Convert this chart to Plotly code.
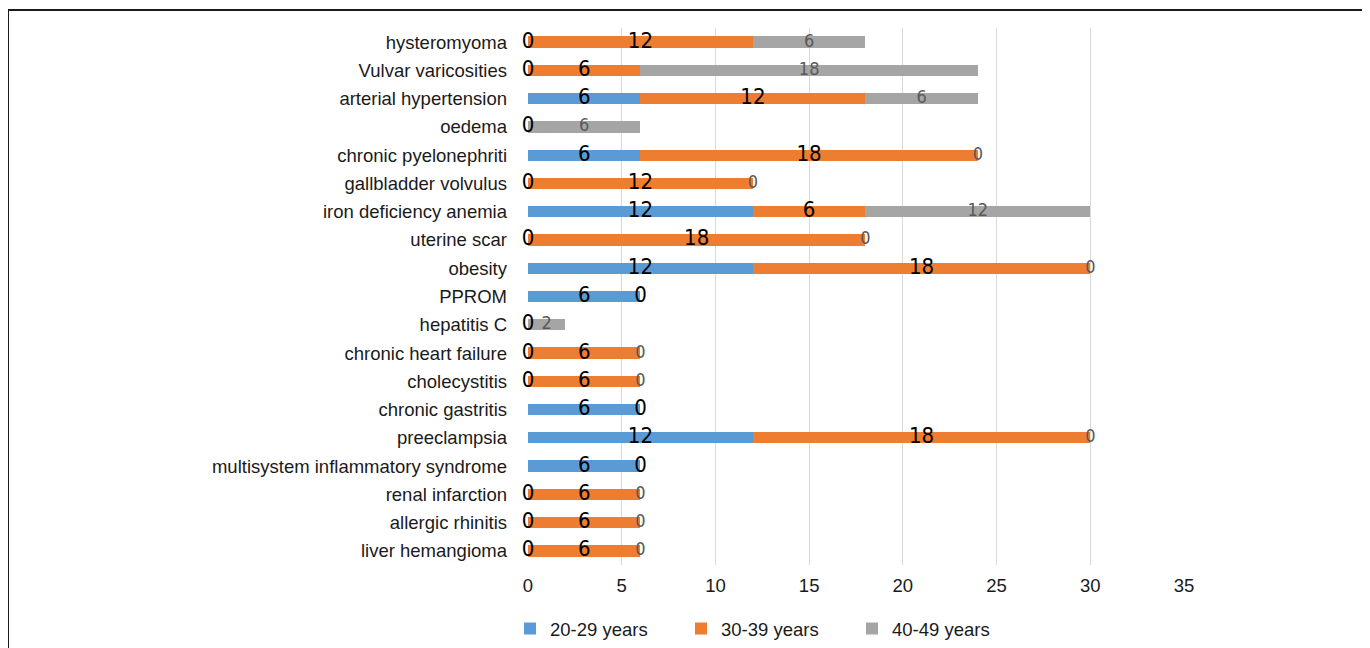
import plotly.graph_objects as go

categories = [
    "hysteromyoma", "Vulvar varicosities", "arterial hypertension", "oedema",
    "chronic pyelonephriti", "gallbladder volvulus", "iron deficiency anemia",
    "uterine scar", "obesity", "PPROM", "hepatitis C", "chronic heart failure",
    "cholecystitis", "chronic gastritis", "preeclampsia",
    "multisystem inflammatory syndrome", "renal infarction", "allergic rhinitis",
    "liver hemangioma",
]
age_20_29 = [0, 0, 6, 0, 6, 0, 12, 0, 12, 6, 0, 0, 0, 6, 12, 6, 0, 0, 0]
age_30_39 = [12, 6, 12, None, 18, 12, 6, 18, 18, 0, None, 6, 6, 0, 18, 0, 6, 6, 6]
age_40_49 = [6, 18, 6, 6, 0, 0, 12, 0, 0, None, 2, 0, 0, None, 0, None, 0, 0, 0]

series_names = ["20-29 years", "30-39 years", "40-49 years"]
colors = ["#5B9BD5", "#ED7D31", "#A5A5A5"]
label_colors = ["#000000", "#000000", "#595959"]
label_sizes = [22, 22, 18]

LABEL_FONT = "Liberation Sans Narrow, DejaVu Sans Condensed, Arial Narrow, sans-serif"
BASE_FONT = "Liberation Sans, Arial, sans-serif"
TXT = "#1a1a1a"

fig = go.Figure()
all_series = [age_20_29, age_30_39, age_40_49]
for vals, name, col in zip(all_series, series_names, colors):
    fig.add_trace(go.Bar(
        y=categories, x=vals, name=name, orientation="h",
        marker=dict(color=col, line=dict(width=0)),
    ))

# data labels at the centre of each stacked segment
cum = [0.0] * len(categories)
for vals, lc, ls in zip(all_series, label_colors, label_sizes):
    xs, ys, ts = [], [], []
    for i, v in enumerate(vals):
        if v is None:
            continue
        xs.append(cum[i] + v / 2)
        ys.append(categories[i])
        ts.append(str(v))
        cum[i] += v
    fig.add_trace(go.Scatter(
        x=xs, y=ys, text=ts, mode="text", showlegend=False, hoverinfo="skip",
        textposition="middle center", cliponaxis=False,
        textfont=dict(family=LABEL_FONT, size=ls, color=lc),
    ))

# figure coordinates (page has an 8px body margin); the figure is a bit
# taller than the window so the legend fits without pushing the margins
W, H = 1370, 680
L, T = 520, 20
PW, PH = 656, 537
R, B = W - L - PW, H - T - PH
BOTTOM = T + PH

fig.update_layout(
    width=W, height=H,
    margin=dict(l=L, r=R, t=T, b=B),
    barmode="stack", bargap=0.6,
    plot_bgcolor="white", paper_bgcolor="white",
    font=dict(family=BASE_FONT, size=18.5, color=TXT),
    xaxis=dict(
        range=[0, 35], tickvals=[0, 5, 10, 15, 20, 25, 30, 35],
        showgrid=True, gridcolor="#D9D9D9", gridwidth=1,
        zeroline=False, showline=False, ticks="",
        ticklabelstandoff=7,
        tickfont=dict(size=18.5, color=TXT),
    ),
    yaxis=dict(
        categoryorder="array", categoryarray=categories,
        range=[len(categories) - 0.5, -0.5], autorange=False,
        showgrid=False, zeroline=False, showline=False, ticks="",
        ticklabelstandoff=20,
        tickfont=dict(size=18.5, color=TXT),
    ),
    legend=dict(
        orientation="h", x=(502 - L) / PW, y=(BOTTOM - 602) / PH,
        xanchor="left", yanchor="top",
        font=dict(size=18.5, color=TXT),
        entrywidth=126, entrywidthmode="pixels", traceorder="normal",
    ),
    shapes=[dict(
        type="rect", xref="paper", yref="paper",
        x0=(0 - L) / PW, x1=(1360 - L) / PW,
        y0=(BOTTOM - 676) / PH, y1=(BOTTOM - 2) / PH,
        line=dict(color="#1a1a1a", width=2), fillcolor="rgba(0,0,0,0)",
        layer="above",
    )],
)

fig.write_html("out.html")
